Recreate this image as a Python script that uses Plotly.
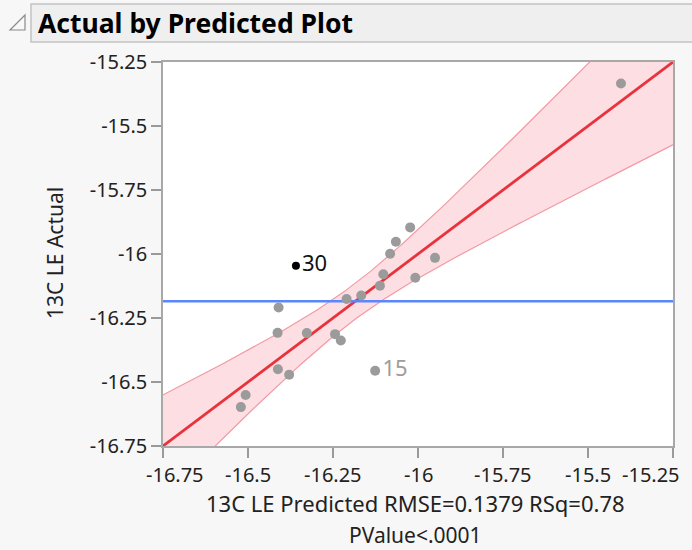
import numpy as np
import plotly.graph_objects as go

# ---- data ----
predicted = [-15.403, -16.359, -16.126, -16.023, -16.065, -16.082, -15.950,
             -16.102, -16.008, -16.112, -16.167, -16.210, -16.410, -16.413,
             -16.327, -16.244, -16.227, -16.412, -16.379, -16.507, -16.521]
actual = [-15.334, -16.046, -16.456, -15.896, -15.952, -15.999, -16.015,
          -16.079, -16.093, -16.124, -16.162, -16.176, -16.209, -16.308,
          -16.309, -16.313, -16.338, -16.450, -16.472, -16.551, -16.598]
row_labels = ["", "30", "15", "", "", "", "", "", "", "", "", "", "", "",
              "", "", "", "", "", "", ""]
highlighted = [1]          # selected row drawn in black
tick_vals = [-16.75, -16.5, -16.25, -16.0, -15.75, -15.5, -15.25]
tick_text = ["-16.75", "-16.5", "-16.25", "-16", "-15.75", "-15.5", "-15.25"]
axis_range = [-16.75, -15.25]
band_var0 = 0.0049         # squared half-width of confidence band at the mean
band_slope = 0.112         # growth of squared half-width with distance from mean

FONT = "Noto Sans"
W, H = 692, 550
L, R, T, B = 163, 19, 62, 104
pw, ph = W - L - R, H - T - B


def px(xp):
    return (xp - L) / pw


def py(yp):
    return (H - B - yp) / ph


x_mean = float(np.mean(predicted))
y_mean = float(np.mean(actual))
xs = np.linspace(axis_range[0] - 0.05, axis_range[1] + 0.05, 300)
hw = np.sqrt(band_var0 + band_slope * (xs - x_mean) ** 2)

fig = go.Figure()
fig.add_trace(go.Scatter(x=xs, y=xs - hw, mode="lines",
                         line=dict(color="#f29aa3", width=1.2), hoverinfo="skip",
                         showlegend=False))
fig.add_trace(go.Scatter(x=xs, y=xs + hw, mode="lines", fill="tonexty",
                         fillcolor="rgba(252,190,198,0.5)",
                         line=dict(color="#f29aa3", width=1.2), hoverinfo="skip",
                         showlegend=False))
fig.add_trace(go.Scatter(x=axis_range, y=axis_range, mode="lines",
                         line=dict(color="#e8333d", width=2.8), showlegend=False))
fig.add_trace(go.Scatter(x=axis_range, y=[y_mean, y_mean], mode="lines",
                         line=dict(color="#5a86ff", width=2.5), showlegend=False))

gx = [p for i, p in enumerate(predicted) if i not in highlighted]
gy = [a for i, a in enumerate(actual) if i not in highlighted]
gt = [t for i, t in enumerate(row_labels) if i not in highlighted]
fig.add_trace(go.Scatter(x=gx, y=gy, mode="markers+text", text=gt,
                         textposition="middle right",
                         textfont=dict(family=FONT, size=22, color="#a09c98"),
                         marker=dict(color="#9b9b9b", size=10),
                         showlegend=False))
hx = [predicted[i] for i in highlighted]
hy = [actual[i] for i in highlighted]
ht = [row_labels[i] for i in highlighted]
fig.add_trace(go.Scatter(x=hx, y=hy, mode="markers+text", text=ht,
                         textposition="middle right",
                         textfont=dict(family=FONT, size=22, color="#111111"),
                         marker=dict(color="#000000", size=8),
                         showlegend=False))

axis_common = dict(range=axis_range, tickvals=tick_vals, ticks="outside",
                   ticklen=10, tickcolor="#9a9a9a", tickwidth=1.5,
                   showgrid=False, zeroline=False, showline=True,
                   linecolor="#a8a8a8", linewidth=1.5, mirror=True,
                   fixedrange=True)
fig.update_xaxes(**axis_common, showticklabels=False)
fig.update_yaxes(**axis_common, ticktext=tick_text,
                 tickfont=dict(family=FONT, size=20, color="#222222"))

ann = []
for v, t in zip(tick_vals, tick_text):
    shift = 0
    if v == tick_vals[0]:
        shift = 12
    elif v == tick_vals[-1]:
        shift = -22
    ann.append(dict(x=v, y=py(474), xref="x", yref="paper", text=t,
                    showarrow=False, xshift=shift, xanchor="center",
                    yanchor="middle",
                    font=dict(family=FONT, size=20, color="#222222")))
ann.append(dict(x=px(415), y=py(503), xref="paper", yref="paper",
                text="13C LE Predicted RMSE=0.1379 RSq=0.78", showarrow=False,
                xanchor="center", yanchor="middle",
                font=dict(family=FONT, size=22, color="#222222")))
ann.append(dict(x=px(415), y=py(535), xref="paper", yref="paper",
                text="PValue<.0001", showarrow=False,
                xanchor="center", yanchor="middle",
                font=dict(family=FONT, size=21, color="#222222")))
ann.append(dict(x=px(55), y=py(253), xref="paper", yref="paper",
                text="13C LE Actual", showarrow=False, textangle=-90,
                xanchor="center", yanchor="middle",
                font=dict(family=FONT, size=21, color="#222222")))
ann.append(dict(x=px(36), y=py(23), xref="paper", yref="paper",
                text="<b>Actual by Predicted Plot</b>", showarrow=False,
                xanchor="left", yanchor="middle",
                font=dict(family=FONT, size=26.5, color="#000000")))

shapes = [
    dict(type="rect", xref="paper", yref="paper", x0=px(31), x1=px(W + 5),
         y0=py(42), y1=py(4), fillcolor="#efefef",
         line=dict(color="#c4c4c4", width=1.5), layer="below"),
    dict(type="path", xref="paper", yref="paper",
         path=f"M {px(10)},{py(30)} L {px(25)},{py(30)} L {px(25)},{py(15)} Z",
         fillcolor="#f8f8f8", line=dict(color="#8a8a8a", width=1.2)),
]

fig.update_layout(width=W, height=H,
                  margin=dict(l=L, r=R, t=T, b=B, pad=0),
                  paper_bgcolor="#f7f7f7", plot_bgcolor="#ffffff",
                  annotations=ann, shapes=shapes, showlegend=False)

fig.write_html("out.html", config={"displayModeBar": False},
               post_script="document.body.style.margin='0';"
                           "document.body.style.overflow='hidden';")
